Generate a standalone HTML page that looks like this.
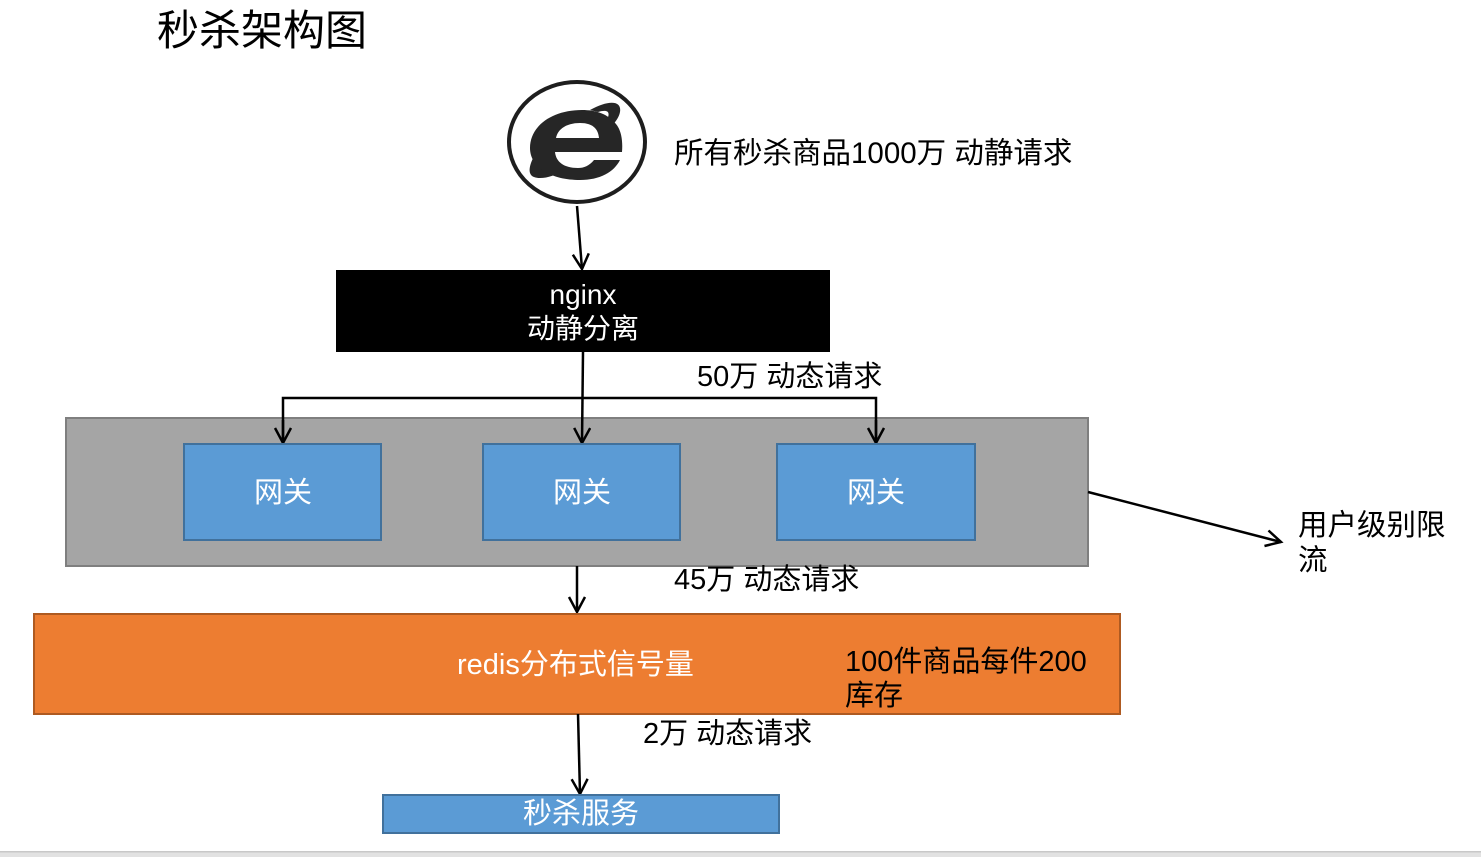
<!DOCTYPE html>
<html><head><meta charset="utf-8"><style>
html,body{margin:0;padding:0;background:#fff;width:1481px;height:857px;overflow:hidden}
svg text{font-family:"Liberation Sans","Noto Sans CJK SC",sans-serif}
</style></head><body>
<svg width="1481" height="857" viewBox="0 0 1481 857" xmlns="http://www.w3.org/2000/svg">
<defs>
<marker id="a" markerWidth="22" markerHeight="22" refX="17" refY="9" orient="auto" markerUnits="userSpaceOnUse">
<polyline points="2,1 17,9 2,17" fill="none" stroke="#000" stroke-width="2.5"/>
</marker>
</defs>
<rect x="0" y="852" width="1481" height="5" fill="#e2e2e2"/>
<rect x="0" y="851" width="1481" height="1.5" fill="#c8c8c8"/>
<text x="157" y="45" font-size="42" fill="#000">秒杀架构图</text>
<!-- IE icon -->
<ellipse cx="577" cy="142" rx="68" ry="60" fill="#fff" stroke="#1e1e1e" stroke-width="4"/>
<g fill="#262626">
<path d="M545,138 C530,160 522,178 540,178 C548,178 556,175 564,170 L556,166 C546,170 538,170 542,158 C544,152 548,146 552,140 Z"/>
<path d="M590,110 C608,100 622,100 620,112 C619,118 614,124 608,130 L604,124 C610,116 612,108 598,112 Z"/>
<path d="M582,110 C552,110 530,126 530,148 C530,168 552,180 580,180 C600,180 614,172 620,160 L594,160 C589,166 584,168 578,168 C564,168 556,162 555,152 L622,152 C623,140 621,130 616,124 C608,114 596,110 582,110 Z M556,138 C558,128 568,123 580,123 C592,123 598,128 599,138 Z"/>
</g>
<text x="674" y="163" font-size="29.5" fill="#000">所有秒杀商品1000万 动静请求</text>
<line x1="577" y1="206" x2="582" y2="269" stroke="#000" stroke-width="2.5" marker-end="url(#a)"/>
<rect x="336" y="270" width="494" height="82" fill="#000"/>
<text x="583" y="304" font-size="28" fill="#fff" text-anchor="middle">nginx</text>
<text x="583" y="338" font-size="28" fill="#fff" text-anchor="middle">动静分离</text>
<text x="697" y="386" font-size="29" fill="#000">50万 动态请求</text>
<rect x="66" y="418" width="1022" height="148" fill="#a5a5a5" stroke="#7f7f7f" stroke-width="2"/>
<polyline points="283,443 283,398 876,398 876,443" fill="none" stroke="#000" stroke-width="2.5"/>
<line x1="283" y1="420" x2="283" y2="443" stroke="#000" stroke-width="2.5" marker-end="url(#a)"/>
<line x1="876" y1="420" x2="876" y2="443" stroke="#000" stroke-width="2.5" marker-end="url(#a)"/>
<line x1="583" y1="352" x2="582" y2="443" stroke="#000" stroke-width="2.5" marker-end="url(#a)"/>
<rect x="184" y="444" width="197" height="96" fill="#5b9bd5" stroke="#41719c" stroke-width="2"/>
<rect x="483" y="444" width="197" height="96" fill="#5b9bd5" stroke="#41719c" stroke-width="2"/>
<rect x="777" y="444" width="198" height="96" fill="#5b9bd5" stroke="#41719c" stroke-width="2"/>
<text x="283" y="502" font-size="29" fill="#fff" text-anchor="middle">网关</text>
<text x="582" y="502" font-size="29" fill="#fff" text-anchor="middle">网关</text>
<text x="876" y="502" font-size="29" fill="#fff" text-anchor="middle">网关</text>
<line x1="1088" y1="492" x2="1281" y2="542" stroke="#000" stroke-width="2.5" marker-end="url(#a)"/>
<text x="1298" y="535" font-size="29.5" fill="#000">用户级别限</text>
<text x="1298" y="570" font-size="29.5" fill="#000">流</text>
<line x1="577" y1="566" x2="577" y2="612" stroke="#000" stroke-width="2.5" marker-end="url(#a)"/>
<text x="674" y="589" font-size="29" fill="#000">45万 动态请求</text>
<rect x="34" y="614" width="1086" height="100" fill="#ed7d31" stroke="#ae5a21" stroke-width="2"/>
<text x="457" y="674" font-size="29" fill="#fff">redis分布式信号量</text>
<text x="845" y="671" font-size="29" fill="#000">100件商品每件200</text>
<text x="845" y="705" font-size="29" fill="#000">库存</text>
<line x1="578" y1="714" x2="580" y2="794" stroke="#000" stroke-width="2.5" marker-end="url(#a)"/>
<text x="643" y="743" font-size="29" fill="#000">2万 动态请求</text>
<rect x="383" y="795" width="396" height="38" fill="#5b9bd5" stroke="#41719c" stroke-width="2"/>
<text x="581" y="823" font-size="29" fill="#fff" text-anchor="middle">秒杀服务</text>
</svg>
</body></html>
